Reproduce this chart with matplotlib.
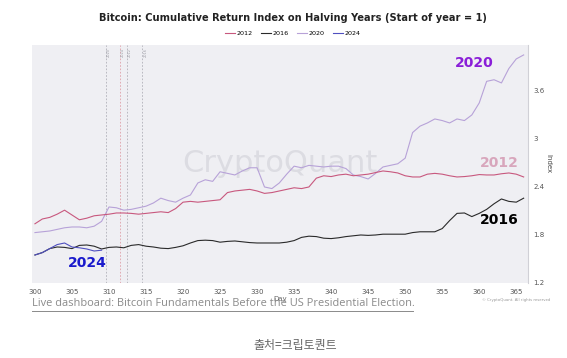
import numpy as np
import matplotlib.pyplot as plt

# ── DATA ──────────────────────────────────────────────────────
DAYS = list(range(300, 367))

IDX_2012 = [1.94, 2.00, 2.02, 2.06, 2.11, 2.05, 1.99, 2.01, 2.04, 2.05,
            2.06, 2.075, 2.075, 2.07, 2.06, 2.07, 2.08, 2.09, 2.08, 2.13,
            2.21, 2.22, 2.21, 2.22, 2.23, 2.24, 2.33, 2.35, 2.36, 2.37,
            2.35, 2.32, 2.33, 2.35, 2.37, 2.39, 2.38, 2.40, 2.51, 2.54,
            2.53, 2.55, 2.56, 2.54, 2.55, 2.56, 2.58, 2.60, 2.59, 2.575,
            2.54, 2.525, 2.525, 2.56, 2.57, 2.56, 2.54, 2.525, 2.53, 2.54,
            2.555, 2.55, 2.55, 2.565, 2.575, 2.56, 2.525]

IDX_2016 = [1.55, 1.58, 1.63, 1.65, 1.645, 1.63, 1.67, 1.675, 1.66, 1.625,
            1.645, 1.65, 1.64, 1.67, 1.68, 1.66, 1.65, 1.635, 1.63, 1.645,
            1.665, 1.70, 1.73, 1.735, 1.73, 1.71, 1.72, 1.725, 1.715, 1.705,
            1.70, 1.70, 1.70, 1.70, 1.71, 1.73, 1.77, 1.785, 1.78, 1.76,
            1.755, 1.765, 1.78, 1.79, 1.80, 1.795, 1.80, 1.81, 1.81, 1.81,
            1.81, 1.83, 1.84, 1.84, 1.84, 1.88, 1.98, 2.07, 2.075, 2.03,
            2.07, 2.12, 2.19, 2.25, 2.22, 2.21, 2.26]

IDX_2020 = [1.83, 1.84, 1.85, 1.87, 1.89, 1.90, 1.90, 1.89, 1.91, 1.97,
            2.15, 2.14, 2.11, 2.12, 2.14, 2.16, 2.20, 2.26, 2.23, 2.21,
            2.26, 2.30, 2.45, 2.49, 2.47, 2.59, 2.57, 2.55, 2.60, 2.64,
            2.64, 2.40, 2.38, 2.45, 2.56, 2.66, 2.64, 2.67, 2.66, 2.65,
            2.66, 2.66, 2.63, 2.55, 2.53, 2.50, 2.57, 2.65, 2.67, 2.69,
            2.76, 3.08, 3.16, 3.20, 3.25, 3.23, 3.20, 3.25, 3.23, 3.30,
            3.45, 3.72, 3.74, 3.70, 3.88, 4.00, 4.05]

DAYS_2024 = list(range(300, 310))
IDX_2024 = [1.55, 1.58, 1.63, 1.68, 1.70, 1.65, 1.64, 1.625, 1.60, 1.61]

# election days (as drawn)
ELECTION_DAYS   = [309.6, 311.5, 312.4, 314.5]
ELECTION_LABELS = ['2020', '2024', '2012', '2016']
ELECTION_COLORS = ['#b0b0b8', '#e0a0a8', '#b0b0b8', '#b0b0b8']

X_TICKS = [300, 305, 310, 315, 320, 325, 330, 335, 340, 345, 350, 355, 360, 365]
Y_TICKS = [1.2, 1.8, 2.4, 3.0, 3.6]
Y_TICK_LABELS = ['1.2', '1.8', '2.4', '3', '3.6']
# ─────────────────────────────────────────────────────────────

C2012 = '#c8587e'
C2016 = '#2a2a2a'
C2020 = '#b7a2d8'
C2024 = '#5050c0'

fig = plt.figure(figsize=(5.67, 3.58), dpi=100)
ax = fig.add_axes([0.0564, 0.2095, 0.875, 0.665])
ax.set_facecolor('#efeff3')

for d, lab, c in zip(ELECTION_DAYS, ELECTION_LABELS, ELECTION_COLORS):
    ax.axvline(d, color=c, lw=0.6, ls=(0, (2, 2)), zorder=1)
    ax.text(d + 0.15, 4.14, lab, rotation=90, fontsize=2.5, color='#a0a0a8',
            ha='left', va='top')

ax.text(0.5, 0.5, 'CryptoQuant', transform=ax.transAxes, fontsize=22,
        color='#dcdce2', ha='center', va='center', zorder=1)

ax.plot(DAYS, IDX_2020, color=C2020, lw=0.8, label='2020', zorder=3)
ax.plot(DAYS, IDX_2012, color=C2012, lw=0.8, label='2012', zorder=3)
ax.plot(DAYS, IDX_2016, color=C2016, lw=0.8, label='2016', zorder=4)
ax.plot(DAYS_2024, IDX_2024, color=C2024, lw=0.8, label='2024', zorder=4)

ax.text(361.9, 3.95, '2020', color='#8a1ed8', fontsize=10, fontweight='bold', ha='right', va='center')
ax.text(365.3, 2.70, '2012', color='#d8a6bc', fontsize=10, fontweight='bold', ha='right', va='center')
ax.text(365.3, 1.99, '2016', color='black', fontsize=10, fontweight='bold', ha='right', va='center')
ax.text(304.4, 1.45, '2024', color='#1a1acc', fontsize=10, fontweight='bold', ha='left', va='center')

ax.set_xlim(299.6, 366.6)
ax.set_ylim(1.2, 4.175)
ax.set_xticks(X_TICKS)
ax.yaxis.tick_right()
ax.yaxis.set_label_position('right')
ax.set_yticks(Y_TICKS)
ax.set_yticklabels(Y_TICK_LABELS)
ax.tick_params(axis='both', length=0, labelsize=5, colors='#555555', pad=4)
for s in ['top', 'left', 'bottom']:
    ax.spines[s].set_visible(False)
ax.spines['right'].set_color('#d0d0d6')
ax.set_xlabel('Day', fontsize=5, color='#666666', labelpad=1)
ax.set_ylabel('Index', fontsize=5, color='#444444', rotation=-90, labelpad=5)

handles, labels = ax.get_legend_handles_labels()
order = [labels.index(k) for k in ['2012', '2016', '2020', '2024']]
fig.legend([handles[i] for i in order], [labels[i] for i in order],
           loc='center', bbox_to_anchor=(0.517, 0.907), ncol=4, frameon=False,
           fontsize=4.6, handlelength=1.5, handletextpad=0.3, columnspacing=1.3)

fig.text(0.517, 0.95, 'Bitcoin: Cumulative Return Index on Halving Years (Start of year = 1)',
         fontsize=7.1, fontweight='bold', ha='center', va='center', color='#222222')

fig.text(0.056, 0.152,
         'Live dashboard: Bitcoin Fundamentals Before the US Presidential Election.',
         fontsize=7.9, color='#8a8a8a', ha='left', va='center', family='Open Sans',
         url='https://cryptoquant.com')
fig.add_artist(plt.Line2D([0.056, 0.728], [0.13, 0.13], color='#8a8a8a', lw=0.7))

fig.text(0.97, 0.162, '© CryptoQuant. All rights reserved', fontsize=2.8,
         color='#999999', ha='right', va='center')

fig.text(0.52, 0.036, '출처=크립토퀀트', fontsize=8.6, color='#666666', style='italic',
         ha='center', va='center', family=['Noto Sans CJK KR', 'DejaVu Sans'])

plt.savefig('out.png', dpi=100)
